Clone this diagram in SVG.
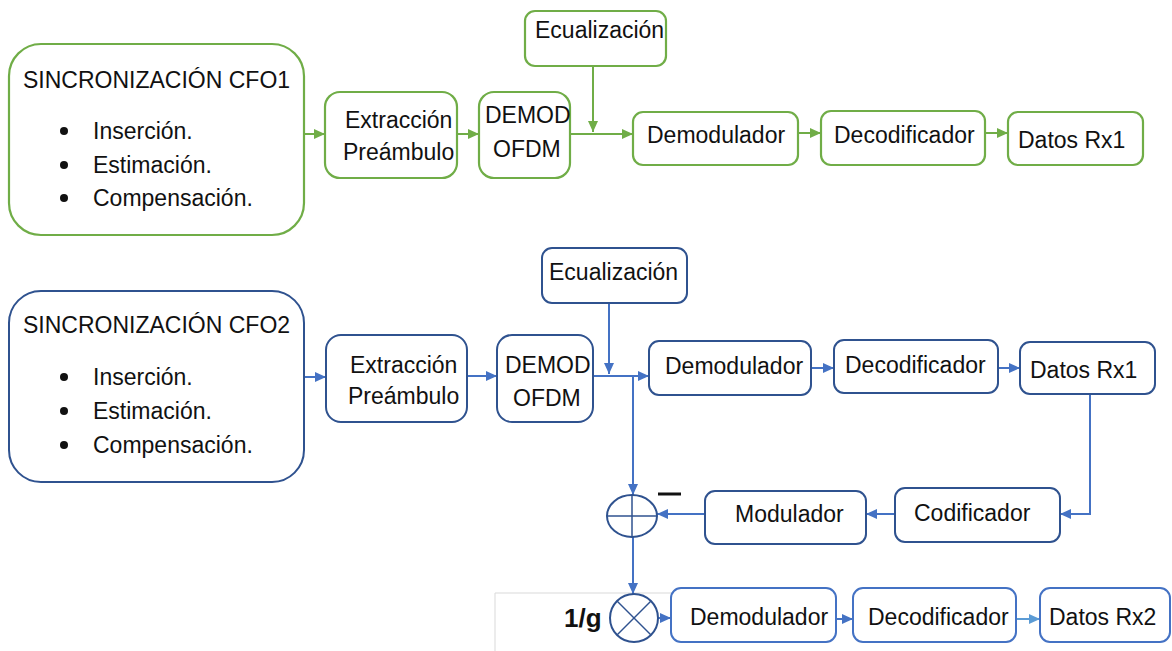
<svg xmlns="http://www.w3.org/2000/svg" width="1172" height="651" viewBox="0 0 1172 651">
<style>
text{font-family:"Liberation Sans",Arial,sans-serif;font-size:23px;fill:#111}
.g{fill:#fff;stroke:#70AD47;stroke-width:2.2}
.b{fill:#fff;stroke:#2F528F;stroke-width:2}
.b2{fill:#fff;stroke:#4472C4;stroke-width:2}
.cg{fill:none;stroke:#70AD47;stroke-width:2}
.cb{fill:none;stroke:#4472C4;stroke-width:2}
.ag{marker-end:url(#mg)}
.ab{marker-end:url(#mb)}
.al{marker-end:url(#ml)}
</style>
<defs>
<marker id="mg" markerUnits="userSpaceOnUse" markerWidth="12" markerHeight="12" refX="11" refY="6" orient="auto"><path d="M0,1 L11,6 L0,11 z" fill="#70AD47"/></marker>
<marker id="mb" markerUnits="userSpaceOnUse" markerWidth="12" markerHeight="12" refX="11" refY="6" orient="auto"><path d="M0,1 L11,6 L0,11 z" fill="#4472C4"/></marker>
<marker id="ml" markerUnits="userSpaceOnUse" markerWidth="12" markerHeight="12" refX="11" refY="6" orient="auto"><path d="M0,1 L11,6 L0,11 z" fill="#5B9BD5"/></marker>
</defs>
<rect width="1172" height="651" fill="#fff"/>
<polyline points="495,651 495,593 672,593" fill="none" stroke="#d9d9d9" stroke-width="1"/>

<g id="connectors">
<line class="cg ag" x1="304" y1="134" x2="325" y2="134"/>
<line class="cg ag" x1="457" y1="134" x2="479" y2="134"/>
<line class="cg ag" x1="570" y1="134" x2="633" y2="134"/>
<line class="cg ag" x1="593" y1="66" x2="593" y2="132"/>
<line class="cg ag" x1="798" y1="133" x2="821" y2="133"/>
<line class="cg ag" x1="985" y1="133" x2="1008" y2="133"/>

<line class="cb ab" x1="304" y1="377" x2="326" y2="377"/>
<line class="cb ab" x1="467" y1="376" x2="497" y2="376"/>
<line class="cb ab" x1="593" y1="376" x2="649" y2="376"/>
<line class="cb ab" x1="609" y1="303" x2="609" y2="374"/>
<line class="cb ab" x1="811" y1="368" x2="834" y2="368"/>
<line class="cb ab" x1="998" y1="368" x2="1020" y2="368"/>
<polyline class="cb ab" points="1090,394 1090,514 1060,514"/>
<line class="cb ab" x1="895" y1="514" x2="866" y2="514"/>
<line class="cb ab" x1="705" y1="514" x2="657" y2="514"/>
<line class="cb ab" x1="633" y1="376" x2="633" y2="495"/>
<line class="cb ab" x1="633" y1="537" x2="633" y2="594"/>
<line class="cb ab" x1="658" y1="618" x2="671" y2="618"/>
<line class="cb ab" x1="836" y1="619" x2="853" y2="619"/>
<line class="cb al" x1="1016" y1="619" x2="1040" y2="619" style="stroke:#5B9BD5"/>
</g>

<g id="sync1">
<rect class="g" x="9" y="44" width="295" height="191" rx="32"/>
<text x="23" y="88">SINCRONIZACIÓN CFO1</text>
<circle cx="64" cy="131" r="4" fill="#111"/><text x="93" y="139">Inserción.</text>
<circle cx="64" cy="165" r="4" fill="#111"/><text x="93" y="173">Estimación.</text>
<circle cx="64" cy="198" r="4" fill="#111"/><text x="93" y="206">Compensación.</text>
</g>
<g id="extr1"><rect class="g" x="325" y="92" width="132" height="86" rx="15"/><text x="345" y="128">Extracción</text><text x="343" y="160">Preámbulo</text></g>
<g id="demod1"><rect class="g" x="479" y="92" width="91" height="86" rx="15"/><text x="485" y="123">DEMOD</text><text x="493" y="157">OFDM</text></g>
<g id="ecu1"><rect class="g" x="525" y="11" width="141" height="55" rx="10"/><text x="535" y="38">Ecualización</text></g>
<g id="dem1"><rect class="g" x="633" y="112" width="165" height="53" rx="10"/><text x="647" y="143">Demodulador</text></g>
<g id="dec1"><rect class="g" x="821" y="111" width="164" height="54" rx="10"/><text x="834" y="143">Decodificador</text></g>
<g id="dat1"><rect class="g" x="1008" y="112" width="135" height="53" rx="10"/><text x="1018" y="148">Datos Rx1</text></g>

<g id="sync2">
<rect class="b" x="9" y="291" width="295" height="191" rx="32"/>
<text x="23" y="333">SINCRONIZACIÓN CFO2</text>
<circle cx="64" cy="377" r="4" fill="#111"/><text x="93" y="385">Inserción.</text>
<circle cx="64" cy="411" r="4" fill="#111"/><text x="93" y="419">Estimación.</text>
<circle cx="64" cy="445" r="4" fill="#111"/><text x="93" y="453">Compensación.</text>
</g>
<g id="extr2"><rect class="b" x="326" y="335" width="141" height="87" rx="15"/><text x="350" y="373">Extracción</text><text x="348" y="404">Preámbulo</text></g>
<g id="demod2"><rect class="b" x="497" y="335" width="96" height="87" rx="15"/><text x="505" y="373">DEMOD</text><text x="513" y="406">OFDM</text></g>
<g id="ecu2"><rect class="b" x="542" y="248" width="145" height="55" rx="10"/><text x="549" y="280">Ecualización</text></g>
<g id="dem2"><rect class="b" x="649" y="341" width="162" height="54" rx="10"/><text x="665" y="374">Demodulador</text></g>
<g id="dec2"><rect class="b" x="834" y="340" width="164" height="53" rx="10"/><text x="845" y="373">Decodificador</text></g>
<g id="dat2"><rect class="b" x="1020" y="342" width="135" height="52" rx="10"/><text x="1030" y="378">Datos Rx1</text></g>
<g id="cod"><rect class="b" x="895" y="488" width="165" height="54" rx="10"/><text x="914" y="521">Codificador</text></g>
<g id="mod"><rect class="b" x="705" y="491" width="161" height="53" rx="10"/><text x="735" y="522">Modulador</text></g>
<g id="sum">
<ellipse cx="632" cy="516" rx="25" ry="21" fill="none" stroke="#2F528F" stroke-width="2"/>
<line x1="607" y1="516" x2="657" y2="516" stroke="#2F528F" stroke-width="1.5"/>
<line x1="632" y1="495" x2="632" y2="537" stroke="#2F528F" stroke-width="1.5"/>
<line x1="658" y1="494" x2="681" y2="494" stroke="#111" stroke-width="3"/>
</g>
<g id="mult">
<text x="564" y="627" style="font-weight:bold;font-size:26px">1/g</text>
<circle cx="634" cy="618" r="24" fill="none" stroke="#2F528F" stroke-width="2"/>
<line x1="617" y1="601" x2="651" y2="635" stroke="#2F528F" stroke-width="1.5"/>
<line x1="651" y1="601" x2="617" y2="635" stroke="#2F528F" stroke-width="1.5"/>
</g>
<g id="dem3"><rect class="b2" x="671" y="588" width="165" height="54" rx="10"/><text x="690" y="625">Demodulador</text></g>
<g id="dec3"><rect class="b2" x="853" y="588" width="163" height="54" rx="10"/><text x="868" y="625">Decodificador</text></g>
<g id="dat3"><rect class="b2" x="1040" y="588" width="130" height="54" rx="10"/><text x="1049" y="625">Datos Rx2</text></g>
</svg>
